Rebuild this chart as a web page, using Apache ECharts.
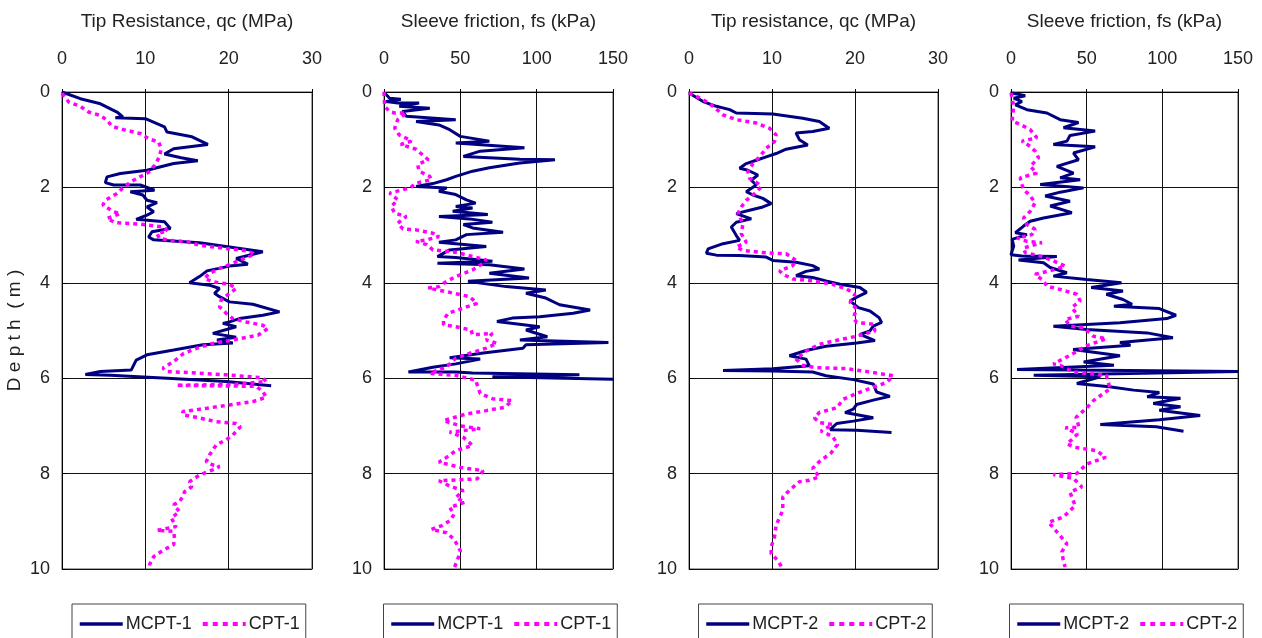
<!DOCTYPE html>
<html><head><meta charset="utf-8">
<script src="https://cdn.jsdelivr.net/npm/echarts@6/dist/echarts.min.js"></script>
<style>html,body{margin:0;padding:0;background:#fff}#c{width:1262px;height:638px}</style>
</head><body><div id="c"></div>
<script>
// ---- data: [value, depth(m)] ----
const xTitles = ['Tip Resistance, qc (MPa)', 'Sleeve friction, fs (kPa)', 'Tip resistance, qc (MPa)', 'Sleeve friction, fs (kPa)'];
const xMax = [30, 150, 30, 150];
const xStep = [10, 50, 10, 50];
const seriesNames = [['MCPT-1', 'CPT-1'], ['MCPT-1', 'CPT-1'], ['MCPT-2', 'CPT-2'], ['MCPT-2', 'CPT-2']];

const mcpt1Qc = [[0,0],[2.2,0.14],[4.5,0.24],[6.6,0.42],[7.3,0.52],[6.4,0.54],[10,0.56],[12.3,0.73],[12.6,0.84],[15.6,0.94],[17.5,1.1],[13.4,1.19],[12.3,1.3],[14.3,1.38],[16.3,1.44],[13.4,1.5],[10.2,1.64],[7.0,1.71],[5.4,1.78],[5.2,1.9],[6.2,1.95],[9.4,1.95],[11.1,2.06],[8.2,2.09],[9.7,2.16],[10.2,2.27],[11.4,2.32],[10.2,2.41],[11.0,2.51],[10.2,2.58],[8.9,2.67],[12.3,2.72],[13.0,2.86],[10.8,2.93],[10.4,3.04],[11,3.1],[16.5,3.16],[20.1,3.25],[24.1,3.35],[20.9,3.49],[22.3,3.61],[20.1,3.65],[17.4,3.75],[16.5,3.87],[15.3,4.0],[17.7,4.05],[18.9,4.12],[18.3,4.22],[18.9,4.29],[20.1,4.4],[22.9,4.45],[26.1,4.61],[24.1,4.68],[21.3,4.75],[20.1,4.82],[19.3,4.85],[20.9,4.92],[18.1,5.06],[20.9,5.14],[18.6,5.2],[20.5,5.26],[16.9,5.3],[13.4,5.41],[10.2,5.51],[8.9,5.62],[8.3,5.83],[4.6,5.86],[2.8,5.92],[5.8,5.94],[12.6,6.0],[19.7,6.07],[25.1,6.16]];
const cpt1Qc = [[0,0.03],[0.8,0.21],[2.2,0.3],[3.2,0.42],[4.6,0.49],[5.4,0.59],[6.0,0.72],[7.4,0.79],[9.4,0.87],[10.4,0.98],[11.6,1.05],[11.9,1.19],[11.7,1.36],[11.1,1.54],[10.4,1.68],[8.6,1.85],[7.4,1.99],[6.6,2.13],[5.2,2.27],[4.9,2.37],[6.2,2.51],[7,2.55],[5.4,2.65],[6.4,2.74],[9.4,2.77],[12.1,2.83],[12.7,2.91],[11.4,2.97],[11.7,3.07],[13,3.11],[15,3.14],[16.5,3.21],[19.7,3.28],[22.1,3.33],[23.1,3.4],[22.1,3.47],[20.5,3.59],[18.9,3.7],[17.7,3.8],[17.1,3.91],[18.1,3.98],[20.1,4.03],[20.9,4.12],[20.1,4.22],[19.1,4.36],[18.9,4.5],[19.7,4.64],[20.5,4.75],[22.1,4.82],[24.1,4.89],[24.7,4.96],[23.5,5.1],[20.5,5.2],[18.1,5.27],[16.2,5.37],[14.6,5.48],[13.4,5.65],[12.1,5.79],[12.6,5.86],[15,5.88],[19.7,5.93],[24.1,5.99],[24.5,6.07],[20.5,6.13],[13.7,6.15],[23.3,6.17],[24.1,6.28],[24.5,6.4],[22.9,6.49],[20.1,6.56],[17.4,6.63],[14.5,6.7],[14.5,6.77],[16.1,6.82],[18.5,6.91],[20.9,6.95],[21.4,7.02],[20.5,7.19],[19.7,7.29],[18.5,7.4],[17.7,7.61],[17.3,7.75],[18.1,7.82],[18.9,7.85],[18.1,7.92],[16.5,8.03],[15.3,8.17],[15.6,8.27],[14.7,8.38],[14.5,8.48],[14.1,8.59],[13.4,8.65],[14.1,8.8],[13.1,8.93],[13.7,9.11],[11.4,9.19],[13.4,9.21],[13.5,9.35],[13.4,9.49],[12.1,9.61],[11,9.74],[10.5,9.91],[10.4,10.0]];
const mcpt1Fs = [[0.4,0.02],[3.7,0.13],[11,0.15],[1.5,0.2],[9,0.23],[23,0.23],[10,0.3],[30,0.34],[12,0.41],[14.6,0.51],[47,0.58],[21,0.62],[36,0.69],[43,0.79],[50,0.93],[69,1.03],[47,1.07],[92,1.17],[63,1.24],[52,1.35],[89,1.41],[112,1.42],[89,1.49],[69,1.59],[58,1.66],[47,1.77],[41,1.84],[32,1.92],[21,1.98],[41,2.01],[36,2.08],[47,2.15],[54,2.26],[60,2.33],[47,2.4],[58,2.43],[45,2.5],[68,2.57],[36,2.61],[56,2.66],[71,2.73],[52,2.78],[58,2.85],[78,2.94],[54,2.99],[47,3.1],[36,3.15],[67,3.24],[43,3.31],[35,3.45],[47,3.47],[71,3.55],[35,3.59],[69,3.62],[92,3.71],[69,3.8],[95,3.9],[55,3.97],[80,4.08],[106,4.15],[93,4.22],[106,4.32],[115,4.46],[135,4.57],[124,4.64],[102,4.71],[84,4.74],[74,4.81],[102,4.92],[93,4.99],[107,5.13],[89,5.2],[147,5.25],[93,5.3],[91,5.37],[65,5.47],[43,5.57],[63,5.6],[47,5.7],[32,5.77],[16,5.87],[47,5.87],[58,5.89],[128,5.93],[71,5.97],[150,6.02]];
const cpt1Fs = [[0,0],[0.4,0.3],[3.7,0.41],[7,0.44],[14.6,0.44],[9,0.58],[7,0.76],[10,0.9],[14.6,0.97],[18,1.03],[11,1.1],[21,1.2],[25,1.31],[29,1.42],[22,1.52],[23,1.66],[30,1.77],[31,1.84],[21,1.91],[17,2.01],[3.7,2.12],[9,2.26],[4.8,2.4],[7,2.54],[14.6,2.61],[9,2.75],[12.4,2.87],[21,2.89],[32,2.96],[36,3.03],[28,3.1],[21,3.13],[28,3.2],[32,3.31],[47,3.36],[58,3.45],[67,3.52],[65,3.59],[58,3.73],[47,3.87],[41,3.97],[36,4.08],[29,4.11],[43,4.2],[56,4.29],[61,4.43],[52,4.53],[42,4.64],[39,4.78],[39,4.88],[47,4.92],[57,4.99],[58,5.09],[71,5.06],[67,5.2],[74,5.27],[67,5.37],[56,5.48],[47,5.58],[41,5.76],[30,5.9],[47,5.94],[60,6.04],[63,6.32],[71,6.43],[84,6.47],[79,6.61],[67,6.68],[54,6.75],[39,6.89],[50,7.0],[63,7.06],[43,7.13],[52,7.24],[58,7.41],[47,7.52],[41,7.66],[36,7.76],[50,7.87],[65,7.94],[61,8.11],[36,8.15],[43,8.26],[52,8.36],[47,8.5],[53,8.6],[43,8.71],[46,8.85],[43,8.99],[38,9.09],[31,9.17],[41,9.24],[46,9.38],[50,9.62],[48,9.83],[46,9.97]];
const mcpt2Qc = [[0,0.02],[1.7,0.2],[3.3,0.3],[4.9,0.37],[5.7,0.44],[10.1,0.46],[13.7,0.55],[15.7,0.62],[16.9,0.76],[14.9,0.83],[12.9,0.86],[13.3,1.0],[14.3,1.11],[11.7,1.2],[10.5,1.29],[9.3,1.36],[8.1,1.43],[6.9,1.5],[6.1,1.6],[7.1,1.64],[8.3,1.74],[7.5,1.85],[8.1,1.95],[6.9,2.09],[7.7,2.16],[8.9,2.23],[9.9,2.34],[8.9,2.41],[7.3,2.48],[5.7,2.55],[7.5,2.66],[5.7,2.73],[5.1,2.83],[5.7,3.01],[6.1,3.11],[4.1,3.18],[2.3,3.29],[2.1,3.38],[3.3,3.42],[6.1,3.43],[9.3,3.46],[10.1,3.53],[12.9,3.57],[14.9,3.64],[15.7,3.71],[14.1,3.76],[12.9,3.85],[14.9,3.89],[16.5,3.96],[18.2,4.03],[20.6,4.1],[21.4,4.2],[20.1,4.31],[19.4,4.38],[20.4,4.52],[21.8,4.59],[22.9,4.73],[23.2,4.83],[22.2,4.91],[21.8,5.01],[20.6,5.08],[22.4,5.21],[20.2,5.26],[16.5,5.33],[14.1,5.42],[12.1,5.53],[14.1,5.6],[14.5,5.74],[10.1,5.8],[4.1,5.84],[10.1,5.85],[14.9,5.87],[16.5,5.95],[19.8,6.03],[22.2,6.12],[22.6,6.29],[24.2,6.38],[22.2,6.46],[20.2,6.55],[19.8,6.65],[18.8,6.72],[22.2,6.83],[19.8,6.9],[17.8,6.95],[17,7.08],[20.2,7.09],[24.4,7.14]];
const cpt2Qc = [[0,0.02],[1.7,0.16],[2.9,0.3],[4.1,0.48],[5.7,0.58],[8.1,0.65],[9.7,0.76],[10.5,0.9],[10.3,1.04],[9.3,1.18],[8.5,1.36],[7.7,1.5],[7.1,1.67],[7.3,1.81],[8.3,1.92],[8.7,1.99],[7.9,2.13],[6.9,2.27],[6.3,2.41],[5.9,2.55],[6.5,2.76],[6.3,2.97],[6.9,3.15],[5.7,3.25],[6.5,3.32],[8.5,3.36],[10.1,3.38],[11.7,3.39],[12.9,3.53],[12.5,3.64],[10.9,3.75],[11.3,3.82],[12.5,3.92],[14.9,3.96],[17.3,4.03],[19,4.13],[20,4.24],[19.4,4.41],[20.2,4.55],[19.8,4.73],[20.2,4.83],[22.2,4.87],[22.4,5.01],[20.2,5.12],[18.2,5.19],[15.7,5.29],[14.1,5.43],[12.9,5.6],[13.7,5.73],[15.3,5.78],[19,5.8],[22.2,5.88],[24.6,5.95],[23.8,6.09],[22.2,6.19],[20.2,6.32],[18.6,6.44],[17.8,6.62],[15.7,6.72],[15.1,6.83],[15.7,6.93],[17.3,6.97],[15.9,7.11],[17.3,7.22],[17.9,7.39],[17.1,7.57],[15.7,7.75],[14.9,7.89],[15.7,8.07],[14.5,8.14],[13.3,8.17],[12.1,8.35],[11.3,8.49],[11.3,8.77],[10.5,9.08],[10.3,9.33],[9.9,9.54],[9.9,9.68],[10.7,9.82],[11.3,10.0]];
const mcpt2Fs = [[0.7,0.02],[9.4,0.08],[1.8,0.13],[7.2,0.2],[2.9,0.27],[10.5,0.37],[23.7,0.44],[32.5,0.58],[44.6,0.64],[34.7,0.75],[55.6,0.82],[39,0.91],[37,1.03],[28,1.1],[55.6,1.15],[41.3,1.28],[44.6,1.42],[30.3,1.56],[41.3,1.7],[32.5,1.8],[45.7,1.84],[19.3,1.94],[47.9,2.01],[32.5,2.1],[22.6,2.18],[39,2.29],[25.9,2.39],[40.2,2.53],[21.5,2.64],[12.7,2.71],[8.3,2.81],[2.9,2.95],[10.5,2.99],[0.7,3.09],[1.8,3.23],[0,3.41],[7.2,3.44],[30.3,3.45],[5,3.52],[21.5,3.58],[25.9,3.68],[36.9,3.79],[28,3.86],[50,3.93],[73,4.0],[53,4.1],[74,4.17],[63,4.24],[74,4.35],[80,4.45],[68,4.49],[98,4.54],[109,4.68],[103,4.75],[72,4.84],[28,4.91],[50,4.98],[90,5.05],[107,5.15],[72,5.25],[79,5.31],[41,5.4],[72,5.53],[48,5.66],[68,5.73],[4,5.82],[150,5.86],[15,5.94],[59,5.97],[43.5,6.11],[65,6.18],[81,6.25],[98,6.3],[90,6.39],[112,6.42],[94,6.53],[112,6.6],[98,6.67],[125,6.78],[98,6.87],[59,6.97],[96,7.02],[114,7.11]];
const cpt2Fs = [[0,0.02],[1.8,0.3],[0.7,0.61],[6.1,0.68],[12.7,0.79],[17.1,0.96],[7.2,1.03],[12.7,1.14],[16,1.24],[18.2,1.38],[12.7,1.56],[17.1,1.7],[6.1,1.8],[7.2,1.94],[8.3,2.04],[12.7,2.18],[16,2.32],[12.7,2.5],[8.3,2.64],[10.5,2.78],[16,2.88],[13.8,2.99],[4,3.06],[10.5,3.13],[20.4,3.16],[8.3,3.27],[9.4,3.37],[19.3,3.44],[28,3.54],[35.8,3.65],[28,3.73],[16,3.82],[21.5,3.96],[23.7,4.07],[32.5,4.14],[43.5,4.24],[45.7,4.38],[40.2,4.52],[44.6,4.7],[35.8,4.77],[39,4.91],[47.9,4.94],[54.5,5.12],[63,5.17],[50,5.32],[39,5.52],[28,5.7],[32.5,5.73],[41.3,5.87],[63,5.94],[65.5,6.22],[54.5,6.47],[49.5,6.64],[43,6.82],[45,7.03],[36,7.04],[44,7.17],[37,7.38],[42.4,7.45],[56.7,7.52],[62.5,7.66],[50,7.8],[43.5,8.0],[28,8.02],[41.3,8.1],[46.8,8.28],[39,8.39],[42.4,8.67],[34.7,8.91],[24.8,9.02],[30.3,9.22],[36.9,9.47],[33.6,9.64],[34.7,9.85],[35.8,9.96]];

const panelData = [[mcpt1Qc, cpt1Qc], [mcpt1Fs, cpt1Fs], [mcpt2Qc, cpt2Qc], [mcpt2Fs, cpt2Fs]];

// ---- layout ----
const gridLeft = [62, 384, 689, 1011];
const gridWidth = [250, 229, 249, 227];
const TOP = 92, HEIGHT = 477;
const FONT = "'Liberation Sans', Arial, sans-serif";
const NAVY = '#000080', MAG = '#ff00ff';

const chart = echarts.init(document.getElementById('c'));
const grid = [], xAxis = [], yAxis = [], series = [], legend = [];
for (let i = 0; i < 4; i++) {
  grid.push({left: gridLeft[i], top: TOP, width: gridWidth[i], height: HEIGHT, show: true,
    borderColor: '#888', borderWidth: 1.5, backgroundColor: '#fff'});
  xAxis.push({type: 'value', gridIndex: i, position: 'top', min: 0, max: xMax[i], interval: xStep[i],
    name: xTitles[i], nameLocation: 'middle', nameGap: 61,
    nameTextStyle: {fontFamily: FONT, fontSize: 19, color: '#222'},
    axisLine: {show: true, onZero: false, lineStyle: {color: '#000', width: 1}},
    axisTick: {show: true, inside: false, length: 3, lineStyle: {color: '#000'}},
    axisLabel: {fontFamily: FONT, fontSize: 18, color: '#222', margin: 24},
    splitLine: {show: true, lineStyle: {color: '#111', width: 1}}});
  yAxis.push({type: 'value', gridIndex: i, inverse: true, min: 0, max: 10, interval: 2,
    name: i === 0 ? 'D e p t h  ( m )' : '', nameLocation: 'middle', nameGap: 38, nameRotate: 90,
    nameTextStyle: {fontFamily: FONT, fontSize: 19, color: '#222'},
    axisLine: {show: true, onZero: false, lineStyle: {color: '#000', width: 1}},
    axisTick: {show: true, inside: true, length: 5, lineStyle: {color: '#000'}},
    axisLabel: {fontFamily: FONT, fontSize: 18, color: '#222', margin: 12},
    splitLine: {show: true, lineStyle: {color: '#111', width: 1}}});
  series.push({type: 'line', name: seriesNames[i][0], xAxisIndex: i, yAxisIndex: i, data: panelData[i][0],
    symbol: 'none', lineStyle: {color: NAVY, width: 3}, itemStyle: {color: NAVY}, z: 3});
  series.push({type: 'line', name: seriesNames[i][1], xAxisIndex: i, yAxisIndex: i, data: panelData[i][1],
    symbol: 'none', lineStyle: {color: MAG, width: 3.5, type: [4, 4]}, itemStyle: {color: MAG}, z: 4});
  const cx = gridLeft[i] + gridWidth[i] / 2;
  legend.push({
    data: [
      {name: seriesNames[i][0], lineStyle: {color: NAVY, width: 3.5, type: 'solid'}},
      {name: seriesNames[i][1], lineStyle: {color: MAG, width: 4, type: [5, 5]}}
    ],
    left: cx - 115, top: 604, orient: 'horizontal',
    itemWidth: 43, itemHeight: 14, itemGap: 9, padding: [11, 6, 14, 6],
    borderColor: '#444', borderWidth: 1, backgroundColor: '#fff', selectedMode: false,
    itemStyle: {opacity: 0},
    textStyle: {fontFamily: FONT, fontSize: 18, color: '#222', padding: [0, 0, 0, -2]}});
}
chart.setOption({animation: false, backgroundColor: '#fff', grid, xAxis, yAxis, series, legend});
</script></body></html>
